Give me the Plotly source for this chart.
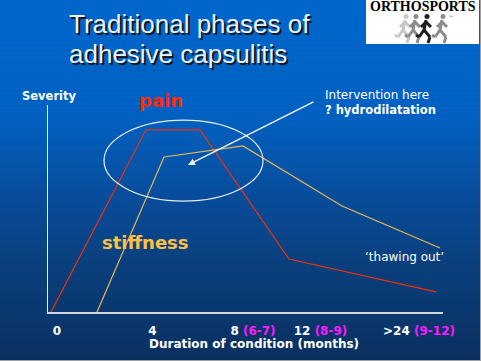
import plotly.graph_objects as go

# ---------------- data ----------------
pain_t = [0, 3.8, 5.96, 9.52, 15.4]
pain_sev = [0, 88, 88, 25.6, 9.7]
stiff_t = [1.84, 4.52, 7.68, 11.64, 15.56]
stiff_sev = [0, 74.9, 80.2, 51.2, 30.9]

tick_pos = [0.24, 4.06, 8.08, 10.78, 14.72]
tick_main = ["0", "4", "8", "12", ">24"]
tick_alt = ["", "", "(6-7)", "(8-9)", "(9-12)"]

# highlighted region (ellipse) and intervention arrow, in chart units
ell_t = [2.12, 8.48]
ell_sev = [53.6, 92.7]
arrow_tail = (10.56, 101.9)
arrow_head = (5.48, 71.0)

W, H = 481, 361
L, R, T, B = 48, 38, 105, 49
PW, PH = W - L - R, H - T - B


def px(x):
    return (x - L) / PW


def py(y):
    return (H - B - y) / PH


MAG = "#ff1aff"
ticktext = [m + (f" <span style='color:{MAG}'>{a}</span>" if a else "") for m, a in zip(tick_main, tick_alt)]

fig = go.Figure()
fig.add_trace(go.Scatter(x=pain_t, y=pain_sev, mode="lines",
                         line=dict(color="#f0320c", width=1.2), hoverinfo="skip", cliponaxis=False))
fig.add_trace(go.Scatter(x=stiff_t, y=stiff_sev, mode="lines",
                         line=dict(color="#e8b850", width=1.2), hoverinfo="skip", cliponaxis=False))

shapes = []


# background gradient
def lerp(c1, c2, f):
    return tuple(round(a + (b - a) * f) for a, b in zip(c1, c2))


stops = [(0, (0, 102, 204)), (110, (0, 98, 196)), (190, (8, 78, 158)), (260, (10, 64, 126)), (361, (10, 48, 96))]
N = 72
for i in range(N):
    y0 = H * i / N
    y1 = H * (i + 1) / N
    ym = (y0 + y1) / 2
    for (a, ca), (b, cb) in zip(stops[:-1], stops[1:]):
        if a <= ym <= b:
            c = lerp(ca, cb, (ym - a) / (b - a))
            break
    shapes.append(dict(type="rect", xref="paper", yref="paper", x0=px(0), x1=px(W), y0=py(y1 + 0.5), y1=py(y0),
                       fillcolor="rgb(%d,%d,%d)" % c, line=dict(width=0), layer="below"))

# ellipse
shapes.append(dict(type="circle", xref="x", yref="y", x0=ell_t[0], x1=ell_t[1], y0=ell_sev[0], y1=ell_sev[1],
                   line=dict(color="#e8eef6", width=1.2), layer="above"))

# logo box
shapes.append(dict(type="rect", xref="paper", yref="paper", x0=px(366), x1=px(479), y0=py(44), y1=py(0),
                   fillcolor="white", line=dict(width=0)))


# simple runner silhouettes
def runner(cx, col):
    segs = [((cx - 1, 20), (cx - 3, 30)), ((cx - 3, 30), (cx + 3, 37)), ((cx + 3, 37), (cx + 1, 43)),
            ((cx - 3, 30), (cx - 8, 37)), ((cx - 8, 37), (cx - 11, 35)), ((cx - 1, 22), (cx + 4, 27)),
            ((cx - 1, 22), (cx - 6, 27))]
    out = [dict(type="circle", xref="paper", yref="paper", x0=px(cx - 2.5), x1=px(cx + 2.5), y0=py(19), y1=py(14),
                fillcolor=col, line=dict(width=0))]
    for (a, b) in segs:
        out.append(dict(type="line", xref="paper", yref="paper", x0=px(a[0]), y0=py(a[1]), x1=px(b[0]), y1=py(b[1]),
                        line=dict(color=col, width=3)))
    return out


for cx, col in [(406, "#c8c8c8"), (416, "#8c8c8c"), (427, "#1e1e1e"), (443, "#8c8c8c")]:
    shapes += runner(cx, col)

# window frame edges
shapes.append(dict(type="line", xref="paper", yref="paper", x0=px(480.5), x1=px(480.5), y0=py(H), y1=py(0),
                   line=dict(color="#a0a0a0", width=1)))
shapes.append(dict(type="line", xref="paper", yref="paper", x0=px(0), x1=px(W), y0=py(360.5), y1=py(360.5),
                   line=dict(color="#a0a0a0", width=1)))

ann = []


def text(x, y, s, size, color, family="DejaVu Sans", weight="normal", xanchor="left", shadow="none", **kw):
    ann.append(dict(xref="paper", yref="paper", x=px(x), y=py(y), text=s, showarrow=False, xanchor=xanchor,
                    yanchor="middle", borderpad=0,
                    font=dict(family=family, size=size, color=color, weight=weight, shadow=shadow), **kw))


# title with shadow
TS = "2px 2px 0px #141414"
text(68, 24, "Traditional phases of", 26, "#e6f4ff", family="Liberation Sans", shadow=TS)
text(68, 54, "adhesive capsulitis", 26, "#e6f4ff", family="Liberation Sans", shadow=TS)

text(422.5, 6, "ORTHOSPORTS", 14, "black", family="Liberation Serif", weight="bold", xanchor="center")
text(451, 18, "™", 6, "#606060", xanchor="center")

text(21, 96, "Severity", 11.5, "white", weight="bold")
text(138, 101, "pain", 18, "#ff2a00", weight="bold")
text(101, 242, "stiffness", 18, "#ffc044", weight="bold")
text(324, 95, "Intervention here", 12, "white")
text(324, 110, "? hydrodilatation", 11.5, "white", weight="bold")
text(364, 257, "‘thawing out’", 12, "white")
text(254, 344, "Duration of condition (months)", 12, "white", weight="bold", xanchor="center")

# arrow
ann.append(dict(xref="x", yref="y", axref="x", ayref="y", x=arrow_head[0], y=arrow_head[1],
                ax=arrow_tail[0], ay=arrow_tail[1], text="", showarrow=True, arrowhead=2, arrowsize=1,
                arrowwidth=1.4, arrowcolor="#f4f4f4"))

fig.update_layout(
    width=W, height=H, autosize=False,
    margin=dict(l=L, r=R, t=T, b=B),
    paper_bgcolor="rgb(10,48,96)", plot_bgcolor="rgba(0,0,0,0)",
    showlegend=False, shapes=shapes, annotations=ann,
    xaxis=dict(range=[-0.12, 15.68], showline=True, linecolor="#d4d8dc", linewidth=1.5, showgrid=False,
               zeroline=False, tickvals=tick_pos, ticktext=ticktext, ticks="", ticklabelstandoff=7,
               tickfont=dict(family="DejaVu Sans", size=12, color="white", weight="bold")),
    yaxis=dict(range=[0, 100], showline=True, linecolor="#f0f0f0", linewidth=1.2, showgrid=False,
               zeroline=False, showticklabels=False, ticks=""),
)

fig.write_html("out.html", config={"displayModeBar": False},
               post_script="document.body.style.margin='0';document.body.style.overflow='hidden';")
